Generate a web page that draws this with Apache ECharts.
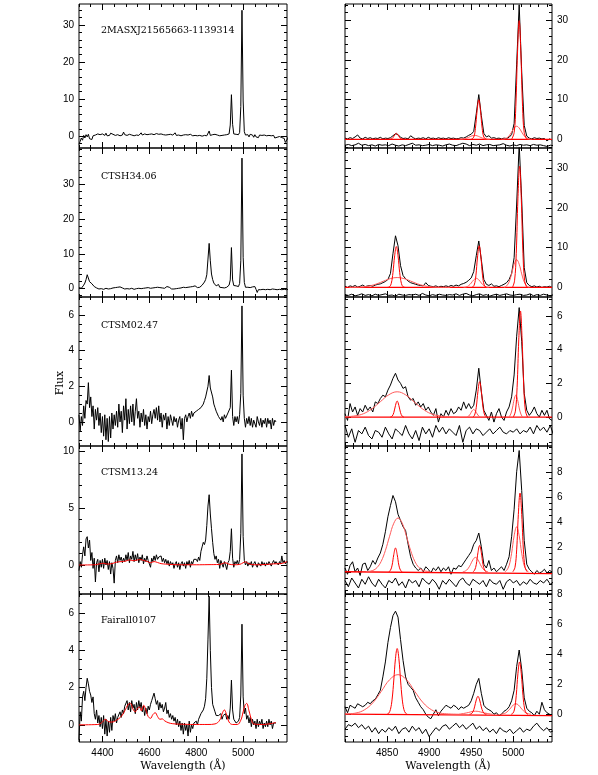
<!DOCTYPE html>
<html>
<head>
<meta charset="utf-8">
<script src="https://cdn.jsdelivr.net/npm/echarts@6/dist/echarts.min.js"></script>
<style>
    html, body { margin: 0; padding: 0; background: #fff; }
    #chart { width: 598px; height: 775px; }
</style>
</head>
<body>
<div id="chart"></div>
<script>
// ---- sample names ----
const names = ['2MASXJ21565663-1139314', 'CTSH34.06', 'CTSM02.47', 'CTSM13.24', 'Fairall0107'];

// ---- tick labels ----
const leftXTicks = [4400, 4600, 4800, 5000];
const rightXTicks = [4850, 4900, 4950, 5000];
const leftYTicks = [[0, 10, 20, 30], [0, 10, 20, 30], [0, 2, 4, 6], [0, 5, 10], [0, 2, 4, 6]];
const rightYTicks = [[0, 10, 20, 30], [0, 10, 20, 30], [0, 2, 4, 6], [0, 2, 4, 6, 8], [0, 2, 4, 6, 8]];

// ---- left column spectra: flux every 5 A from 4300 A (10 values per row = 50 A) ----
const specLeft1 = [
    -2.2, -1.4, -0.5, -1.1, 0.2, -0.5, 0.4, -0.2, 0.5, -0.7,
    -0.2, -0.9, 0.1, -0.4, 0.3, 0.0, 0.6, 0.2, 0.4, -0.1,
    0.6, 0.3, 0.2, 0.8, 0.1, 0.5, 0.2, 0.8, 0.3, 0.5,
    1.0, 0.2, 0.7, 0.4, 0.9, 0.1, 0.6, 0.3, 1.1, 0.4,
    0.8, 0.2, 0.7, 0.5, 0.9, 0.3, 0.6, 0.1, 0.5, 0.3,
    0.7, 0.2, 0.5, 0.9, 0.3, 0.2, 0.6, 0.1, 0.4, 0.0,
    0.5, 0.2, 0.6, 0.1, 0.4, 0.3, 0.7, 0.2, 0.5, 0.3,
    0.6, 0.2, 0.4, 0.8, 0.3, 0.6, 0.4, 0.7, 0.5, 0.4,
    0.3, 0.5, 0.9, 0.2, 0.6, 0.3, 0.5, 0.1, 0.4, 0.3,
    0.0, 0.4, 0.2, 0.3, 0.2, 0.5, 0.3, 0.1, 0.4, 0.2,
    0.5, 0.1, 0.3, 0.2, 0.4, 0.0, 0.3, 0.2, 0.4, 0.1,
    0.3, 1.4, 0.2, -0.1, 0.4, 0.2, 0.5, 0.1, 0.3, 0.4,
    0.1, 0.3, 0.2, 0.5, 0.3, 0.1, 0.4, 0.2, 0.6, 3.0,
    11.2, 3.2, 0.6, 0.2, 0.5, 0.1, 0.4, 1.0, 8.0, 34.0,
    9.5, 1.2, 0.3, -0.1, 0.4, -0.2, 0.5, 0.0, 0.3, -0.3,
    0.4, -0.2, 0.2, -0.4, 0.3, -0.1, 0.2, -0.3, 0.3, -0.2,
    0.1, -0.4, 0.2, -0.3, 0.1, -0.2, 0.2, -0.5, 0.0, -0.3,
    0.2, -0.1, 0.1, -0.4, 0.0, -0.6, -1.7, -1.2, -0.6, 0.2,
];
const specLeft2 = [
    0.3, 0.8, 0.1, 0.6, 1.0, 1.6, 2.6, 4.0, 3.6, 2.0,
    1.6, 1.4, 1.1, 0.6, 0.9, 0.2, 0.4, -0.1, 0.3, 0.0,
    0.4, -0.2, 0.3, 0.1, 0.5, -0.1, 0.3, 0.0, 0.4, 0.2,
    0.6, 0.3, 0.7, 0.4, 0.9, 0.5, 0.8, 0.2, 0.4, -0.1,
    0.2, 0.0, 0.3, -0.1, 0.2, 0.1, 0.3, -0.2, 0.2, 0.0,
    0.3, 0.1, 0.2, 0.0, 0.3, 0.1, 0.4, 0.2, 0.5, 0.3,
    0.3, 0.1, 0.4, 0.2, 0.5, 0.3, 0.6, 0.4, 0.7, 0.3,
    0.5, 0.2, 0.4, 0.1, 0.3, 0.6, 1.1, 0.4, 0.2, -0.1,
    0.1, -0.1, 0.2, 0.0, 0.3, 0.1, 0.5, 0.2, 0.7, 0.4,
    0.6, 0.3, 0.1, 0.4, 0.2, 0.5, 0.3, 0.6, 0.4, 0.8,
    0.6, 0.3, 0.5, 0.4, 0.8, 1.0, 1.3, 1.9, 2.6, 4.0,
    8.5, 13.0, 8.0, 4.2, 2.6, 1.6, 1.1, 0.8, 0.6, 1.2,
    0.4, 0.8, 0.3, 0.5, 0.2, 0.6, 0.4, 0.9, 1.0, 2.5,
    11.8, 2.5, 0.9, 0.5, 0.8, 0.3, 0.6, 1.5, 8.0, 37.5,
    9.0, 1.8, 0.4, 0.1, 0.4, 0.0, 0.3, 0.1, 0.5, 0.9,
    0.6, -0.2, -1.1, -0.3, 0.0, -0.3, 0.1, -0.2, 0.0, -0.3,
    0.1, -0.2, 0.0, -0.3, 0.1, -0.1, 0.2, -0.2, 0.0, -0.3,
    0.1, -0.2, 0.0, -0.3, 0.1, -0.2, 0.0, -0.3, 0.1, -0.2,
];
const specLeft3 = [
    0.4, -0.5, 0.3, -0.2, 0.9, 0.2, 1.2, 1.0, 2.2, 0.8,
    1.4, 0.3, 0.9, -0.4, 0.7, 0.1, 0.8, -0.2, 0.5, -0.6,
    0.3, -0.8, 0.4, -1.0, 0.2, -1.1, 0.3, -0.9, 0.5, -0.4,
    0.4, -0.2, 0.6, -0.3, 1.0, 0.0, 0.6, -0.6, 0.9, 0.1,
    1.3, -0.4, 0.7, -0.1, 0.9, 0.0, 1.0, -0.2, 0.6, 1.3,
    0.2, 0.6, -0.3, 0.5, 0.0, 0.7, -0.2, 0.4, -0.4, 0.3,
    0.0, 0.6, -0.1, 0.4, 0.7, 0.2, 0.8, 0.1, 0.9, 0.0,
    0.5, -0.3, 0.4, 0.1, 0.5, -0.4, 0.3, -0.2, 0.4, 0.1,
    -0.2, 0.3, 0.0, 0.2, -0.3, 0.1, 0.3, -0.4, 0.2, -1.0,
    0.2, 0.4, 0.0, 0.3, 0.5, 0.2, 0.6, 0.3, 0.5, 0.4,
    0.6, 0.5, 0.7, 0.6, 0.8, 0.7, 1.0, 1.2, 1.4, 1.5,
    2.0, 2.6, 1.9, 1.8, 1.4, 1.0, 0.8, 0.6, 0.5, 0.3,
    0.4, 0.1, 0.3, 0.0, 0.4, 0.2, 0.3, 0.5, 0.4, 0.8,
    2.9, 0.3, -0.2, 0.3, 0.0, 0.3, -0.1, 0.4, 1.6, 6.5,
    1.5, 0.2, -0.3, 0.2, -0.1, 0.3, -0.2, 0.2, -0.3, 0.1,
    0.2, -0.3, 0.3, 0.0, -0.2, 0.2, -0.3, 0.1, -0.1, 0.2,
    -0.3, 0.2, -0.1, 0.1, -0.4, 0.2, -0.2, 0.1, 0.0,
];
const specLeft4 = [
    -0.5, 0.3, -0.2, 0.9, 1.6, 0.8, 2.3, 2.5, 1.5, 2.2,
    0.4, 1.1, -0.3, 0.6, -1.5, 0.2, 0.5, -0.6, 0.4, -0.2,
    0.5, -0.3, 0.6, 0.0, 0.4, -0.4, 0.3, -0.8, 0.2, -0.3,
    -1.6, 0.4, 0.8, 0.2, 0.9, 0.4, 0.7, 0.2, 0.6, 0.3,
    0.9, 0.4, 1.1, 0.2, 0.8, 0.5, 1.2, 0.3, 0.9, 0.4,
    1.0, 0.2, 0.7, 0.4, 0.9, 0.1, 0.6, 0.3, 0.8, 0.4,
    0.5, -0.2, 0.6, 0.3, 0.8, 0.4, 0.9, 0.5, 0.7, 0.6,
    0.8, 0.3, 0.6, 0.2, 0.5, 0.1, 0.4, -0.1, 0.3, 0.0,
    0.2, -0.3, 0.1, 0.3, -0.2, 0.2, -0.4, 0.1, 0.3, -0.1,
    0.2, -0.3, 0.3, 0.0, 0.4, -0.2, 0.3, 0.1, 0.5, 0.4,
    0.5, 0.3, 0.7, 0.4, 1.2, 1.6, 2.0, 1.8, 2.2, 3.5,
    5.2, 6.2, 4.5, 3.2, 2.0, 1.0, 0.5, 0.8, 0.2, 0.5,
    -0.3, 0.4, 0.1, -0.2, 0.3, 0.0, -0.4, 0.2, 0.4, 1.2,
    3.2, 0.6, -0.2, 0.3, 0.1, 0.4, 0.0, 0.5, 2.8, 9.8,
    2.5, 0.4, 0.0, 0.3, -0.1, 0.2, 0.0, 0.3, -0.2, 0.1,
    0.3, 0.0, -0.2, 0.2, 0.1, -0.1, 0.3, 0.0, 0.2, -0.1,
    0.2, 0.0, 0.3, 0.1, -0.1, 0.2, 0.4, 0.1, 0.3, 0.2,
    0.0, 0.3, 0.1, 0.8, 0.2, 0.4, 0.1, 0.3, 0.4, 0.2,
];
const specLeft5 = [
    -0.8, 0.7, 0.2, 1.5, 1.8, 1.3, 2.0, 2.5, 2.2, 1.8,
    1.6, 1.2, 1.5, 0.6, 0.3, 0.8, 0.1, 0.5, -0.1, 0.4,
    -0.2, 0.5, -0.5, 0.3, -0.6, 0.2, -0.4, 0.4, -0.3, 0.5,
    0.2, 0.6, 0.1, 0.4, 0.3, 0.7, 0.4, 0.8, 0.6, 1.0,
    0.9, 1.3, 0.8, 1.2, 0.7, 1.3, 0.9, 1.1, 0.6, 1.2,
    0.8, 1.3, 0.9, 1.2, 0.7, 1.0, 0.5, 0.9, 0.6, 1.0,
    0.8, 1.1, 1.3, 1.2, 1.7, 1.4, 1.1, 1.3, 0.8, 1.2,
    0.9, 1.1, 0.7, 0.9, 1.2, 0.6, 0.8, 0.4, 0.6, 0.3,
    0.5, 0.2, 0.4, 0.0, 0.3, -0.1, 0.2, -0.3, 0.1, -0.5,
    0.1, -0.3, 0.0, -0.6, 0.2, -0.4, 0.0, -0.2, 0.1, 0.0,
    0.2, 0.0, 0.3, 0.4, 0.6, 0.5, 0.8, 1.0, 1.4, 2.5,
    4.6, 6.9, 4.0, 2.0, 1.1, 0.9, 0.7, 0.5, 0.6, 0.5,
    0.4, 0.6, 0.3, 0.5, 0.4, 0.6, 0.3, 0.5, 0.3, 0.9,
    2.4, 0.8, 0.3, 0.2, 0.1, 0.0, 0.2, 0.4, 1.6, 5.4,
    1.5, 0.6, 0.9, 0.3, 0.5, 0.1, 0.4, -0.1, 0.3, 0.0,
    0.2, -0.2, 0.3, -0.1, 0.2, 0.0, 0.3, -0.2, 0.1, -0.1,
    0.2, -0.1, 0.3, 0.0, 0.2, -0.2, 0.1, 0.2, 0.1,
];
// Fe II template fits [wavelength, flux]
const feLeft4 = [
    [4300, 0], [4370, 0.02], [4390, 0.12], [4405, 0.15], [4420, 0.08], [4440, 0.12], [4460, 0.25],
    [4480, 0.3], [4500, 0.35], [4515, 0.45], [4530, 0.38], [4545, 0.42], [4560, 0.48], [4575, 0.4],
    [4590, 0.32], [4605, 0.2], [4620, 0.3], [4635, 0.22], [4650, 0.12], [4670, 0.08], [4700, 0.04],
    [4750, 0.02], [4800, 0.02], [4850, 0.03], [4900, 0.05], [4915, 0.15], [4925, 0.2], [4938, 0.08],
    [4960, 0.02], [4985, 0.05], [5000, 0.2], [5010, 0.28], [5020, 0.15], [5035, 0.05], [5060, 0.02],
    [5100, 0.05], [5130, 0.1], [5160, 0.12], [5175, 0.2], [5187, 0.3],
];
const feLeft5 = [
    [4300, 0], [4380, 0.02], [4400, 0.15], [4412, 0.3], [4425, 0.18], [4440, 0.15], [4460, 0.25],
    [4480, 0.45], [4495, 0.75], [4510, 1.1], [4520, 1.15], [4530, 0.85], [4540, 0.7], [4550, 0.9],
    [4558, 0.95], [4566, 0.75], [4576, 1.05], [4585, 0.8], [4595, 0.45], [4605, 0.35], [4615, 0.55],
    [4625, 0.65], [4635, 0.45], [4645, 0.3], [4655, 0.32], [4665, 0.22], [4680, 0.12], [4700, 0.06],
    [4750, 0.03], [4800, 0.02], [4850, 0.02], [4880, 0.05], [4900, 0.25], [4912, 0.65], [4920, 0.8],
    [4928, 0.6], [4940, 0.15], [4955, 0.02], [4975, 0.02], [4990, 0.25], [5000, 0.7], [5008, 1.05],
    [5015, 1.15], [5025, 0.75], [5035, 0.3], [5045, 0.05], [5080, 0.02], [5110, 0.05], [5130, 0.1], [5140, 0.12],
];

// ---- right column: observed flux every 3 A from 4800 A (10 per row = 30 A) ----
const obsRight1 = [
    0.3, 0.1, 0.4, 0.2, 0.6, 1.1, 0.3, 0.1, 0.5, 0.2,
    0.4, 0.1, 0.3, 0.2, 0.5, 0.1, 0.3, 0.2, 0.4, 0.9,
    1.4, 1.2, 0.5, 0.2, 0.3, 0.1, 0.9, 0.4, 0.1, 0.3,
    0.2, 0.4, 0.1, 0.5, 0.2, 0.3, 0.1, 0.4, 0.2, 0.3,
    0.1, 0.4, 0.2, 0.3, 0.1, 0.2, 0.4, 0.3, 0.6, 1.0,
    1.3, 2.0, 6.5, 11.3, 6.0, 1.5, 0.6, 0.9, 0.3, 0.4,
    0.2, 0.3, 0.1, 0.3, 0.2, 0.5, 1.2, 4.0, 19.0, 34.0,
    17.0, 3.5, 0.8, 0.3, 0.1, 0.4, 0.2, 0.3, 0.1, 0.2,
    -0.4, 0.1, -0.2,
];
const obsRight2 = [
    0.3, 0.0, 0.4, 0.2, 0.5, 0.1, 0.3, 0.6, 0.2, 0.4,
    0.5, 0.3, 0.6, 0.8, 0.9, 1.2, 1.5, 2.0, 3.5, 8.5,
    13.0, 10.5, 5.5, 3.0, 2.2, 1.6, 1.2, 1.0, 0.8, 0.6,
    0.5, 0.4, 1.2, 0.5, 0.3, 0.2, 0.4, 0.1, 0.3, 0.2,
    0.4, 0.2, 0.5, 0.3, 0.6, 0.4, 0.8, 1.0, 1.3, 1.8,
    2.4, 4.0, 8.0, 11.7, 7.0, 2.0, 0.8, 0.5, 0.9, 0.3,
    0.4, 0.2, 0.5, 0.8, 1.2, 2.0, 3.5, 7.5, 21.0, 36.0,
    22.0, 5.0, 1.2, 0.5, 0.2, 0.4, 0.1, 0.3, 0.0, 0.2,
    0.1, 0.3, 0.0,
];
const obsRight3 = [
    0.2, -0.2, 0.8, 0.3, 0.6, 0.1, 0.5, 0.3, 0.7, 0.4,
    0.6, 0.3, 0.9, 0.8, 1.1, 1.3, 1.2, 1.6, 1.9, 2.3,
    2.6, 2.2, 2.0, 1.7, 1.8, 1.2, 1.0, 1.1, 0.7, 0.9,
    0.6, 0.8, 0.4, 0.6, 0.3, 0.1, 0.5, -0.3, 0.2, 0.0,
    0.4, 0.1, 0.5, 0.2, 0.3, 0.6, 0.4, 0.9, 0.5, 0.8,
    0.5, 0.7, 1.6, 2.9, 1.5, 0.4, 0.1, -0.2, 0.3, -0.3,
    0.2, 0.5, 0.0, -0.2, 0.3, 0.6, 1.2, 2.5, 4.8, 6.5,
    4.5, 1.4, 0.4, 0.1, 0.3, 0.6, 0.2, 0.0, 0.4, 0.1,
    0.4, -0.1, -0.2,
];
const obsRight4 = [
    0.3, -0.2, 0.5, 0.8, 0.0, 0.3, -0.3, 0.6, 0.7, 0.1,
    0.4, 0.9, 0.6, 1.1, 1.5, 2.2, 3.2, 4.4, 5.3, 6.1,
    5.6, 4.6, 4.1, 3.6, 3.3, 2.2, 1.2, 0.6, 0.3, 0.1,
    0.3, 0.0, 0.4, 0.2, -0.1, 0.3, 0.1, 0.4, 0.0, 0.3,
    0.1, 0.4, -0.2, 0.3, 0.2, 0.5, 0.4, 0.7, 1.0, 1.3,
    1.6, 2.2, 2.5, 3.1, 2.0, 0.6, 0.3, 0.9, 0.1, 0.3,
    0.0, 0.2, 0.4, 0.1, 0.6, 1.2, 2.8, 5.0, 8.0, 9.7,
    6.5, 2.5, 0.6, 0.2, 0.0, -0.2, 0.1, -0.1, 0.0, 0.2,
    -0.1, 0.1, 0.0,
];
const obsRight5 = [
    0.5, 0.1, 0.6, 0.5, 0.4, 0.7, 0.6, 0.5, 0.6, 0.8,
    0.7, 0.9, 1.0, 1.3, 1.6, 2.5, 3.5, 4.8, 5.8, 6.6,
    6.9, 6.5, 5.0, 3.6, 2.5, 2.0, 1.8, 1.6, 1.1, 0.8,
    0.5, 0.3, 0.0, -0.2, -0.3, 0.0, 0.3, -0.1, 0.2, 0.4,
    0.6, 0.5, 0.4, 0.6, 0.5, 0.3, 0.5, 0.4, 0.5, 0.6,
    0.9, 1.4, 2.0, 2.4, 1.4, 0.6, 0.4, 0.3, 0.2, 0.0,
    0.1, -0.1, 0.0, 0.2, 0.3, 0.5, 0.9, 1.6, 3.2, 4.3,
    3.0, 1.1, 0.4, 0.2, 0.1, -0.1, 0.2, 0.0, 0.8, 0.3,
    0.1, 0.0, -0.1,
];

// ---- right column: residuals every 4 A from 4800 A (10 per row = 40 A) ----
const resRight1 = [
    -1.5, -1.3, -1.6, -1.4, -1.0, -1.5, -1.3, -1.6, -1.4, -1.7,
    -1.3, -1.5, -1.4, -1.6, -1.2, -1.5, -1.7, -1.4, -1.6, -1.3,
    -1.0, -1.5, -1.4, -1.6, -1.5, -1.3, -1.6, -1.4, -1.5, -1.7,
    -1.4, -1.2, -1.5, -1.6, -1.3, -1.0, -1.2, -1.6, -1.3, -1.5,
    -1.2, -1.6, -1.4, -1.3, -1.6, -1.5, -1.4, -1.1, -1.5, -1.7,
    -1.4, -1.6, -1.3, -1.5, -1.4, -1.6, -1.3, -1.5, -1.4, -1.6,
    -1.8, -1.5, -1.6,
];
const resRight2 = [
    -1.8, -2.0, -1.7, -2.1, -1.9, -1.6, -2.0, -1.8, -2.1, -1.7,
    -2.0, -1.8, -1.6, -2.0, -1.9, -2.2, -1.7, -1.9, -2.0, -1.8,
    -1.9, -1.7, -2.0, -1.5, -1.9, -2.1, -1.8, -2.0, -1.7, -1.9,
    -2.0, -1.8, -1.9, -1.6, -2.0, -1.7, -1.5, -1.9, -2.1, -1.8,
    -1.6, -2.0, -1.8, -2.2, -1.9, -1.7, -2.0, -1.8, -1.6, -1.9,
    -2.0, -1.8, -1.7, -2.0, -1.9, -1.6, -2.1, -1.8, -2.0, -1.7,
    -1.9, -2.1, -1.8,
];
const resRight3 = [
    -0.5, -1.2, -0.7, -1.5, -0.8, -1.0, -0.6, -1.1, -1.3, -0.8,
    -0.9, -1.2, -0.6, -1.0, -1.3, -0.7, -0.9, -1.1, -0.5, -1.0,
    -1.3, -0.8, -1.4, -0.6, -1.0, -0.7, -1.2, -0.5, -0.9, -0.6,
    -1.0, -0.7, -0.9, -1.1, -0.5, -1.5, -0.8, -0.6, -1.0, -0.7,
    -0.8, -1.1, -0.9, -0.7, -1.0, -0.8, -0.6, -0.9, -1.0, -0.8,
    -0.9, -0.7, -1.0, -0.8, -0.9, -0.6, -1.0, -0.5, -0.8, -0.6,
    -0.9, -0.5, -1.1,
];
const resRight4 = [
    -0.7, -1.2, -0.5, -0.9, -1.3, -0.6, -1.0, -0.4, -0.9, -1.2,
    -0.6, -1.0, -1.3, -0.7, -0.9, -0.5, -1.1, -0.8, -1.3, -0.6,
    -0.9, -0.7, -1.2, -0.5, -0.8, -1.0, -0.6, -0.9, -1.4, -0.7,
    -1.0, -0.6, -0.9, -1.2, -0.7, -0.5, -0.9, -1.1, -0.6, -0.8,
    -1.0, -0.7, -1.2, -0.6, -0.9, -1.0, -0.7, -1.4, -0.8, -0.6,
    -0.9, -0.7, -1.1, -0.8, -1.0, -0.6, -0.9, -1.0, -0.7, -0.9,
    -0.6, -1.0, -0.8,
];
const resRight5 = [
    -1.0, -0.7, -0.8, -0.6, -0.9, -0.7, -1.0, -0.8, -1.2, -0.9,
    -1.3, -1.0, -1.2, -0.9, -1.1, -0.8, -1.3, -1.0, -0.9, -1.2,
    -0.8, -1.1, -0.9, -1.3, -1.0, -1.5, -1.2, -0.9, -1.1, -0.8,
    -0.7, -1.0, -0.8, -0.6, -0.9, -0.7, -1.0, -0.8, -0.6, -1.0,
    -0.8, -1.1, -0.9, -1.2, -1.0, -1.3, -0.9, -1.1, -1.2, -1.0,
    -1.3, -1.1, -0.9, -1.2, -1.0, -1.1, -0.8, -0.6, -0.9, -1.1,
    -0.9, -1.2, -1.1,
];

// ---- right column: fitted line components [wavelength, flux] ----
const narrowRight1 = [
    [[4852, 0], [4855, 0.09], [4857, 0.41], [4859, 1.09], [4861, 1.5], [4863, 1.09], [4865, 0.41], [4867, 0.09], [4870, 0]],
    [[4950, 0], [4953, 0.56], [4955, 2.78], [4957, 7.26], [4959, 10], [4961, 7.26], [4963, 2.78], [4965, 0.56], [4968, 0]],
    [[4998, 0], [5001, 1.68], [5003, 8.3], [5005, 21.8], [5007, 30], [5009, 21.8], [5011, 8.3], [5013, 1.68], [5016, 0]],
];
const broadRight1 = [
    [[4936, 0], [4939, 0.04], [4942, 0.14], [4945, 0.32], [4948, 0.61], [4951, 0.88], [4954, 1.0], [4957, 0.88], [4960, 0.61], [4963, 0.32], [4966, 0.14], [4969, 0.04], [4972, 0]],
    [[4986, 0], [4989, 0.08], [4992, 0.31], [4995, 0.86], [4998, 1.82], [5001, 2.84], [5004, 3.3], [5007, 2.84], [5010, 1.82], [5013, 0.86], [5016, 0.31], [5019, 0.08], [5022, 0]],
];
const narrowRight2 = [
    [[4850, 0], [4853, 0.18], [4855, 1.04], [4857, 3.72], [4859, 7.98], [4861, 10.3], [4863, 7.98], [4865, 3.72], [4867, 1.04], [4869, 0.18], [4872, 0]],
    [[4951, 0], [4953.5, 0.59], [4955.5, 2.92], [4957.5, 7.66], [4959.5, 10.5], [4961.5, 7.66], [4963.5, 2.92], [4965.5, 0.59], [4968, 0]],
    [[4999, 0], [5001.5, 1.7], [5003.5, 8.5], [5005.5, 22.3], [5007.5, 30.5], [5009.5, 22.3], [5011.5, 8.5], [5013.5, 1.7], [5016, 0]],
];
const broadRight2 = [
    [[4805, 0.01], [4812, 0.03], [4822, 0.16], [4830, 0.43], [4838, 0.92], [4846, 1.61], [4854, 2.24], [4862, 2.5], [4870, 2.24], [4878, 1.61], [4886, 0.92], [4894, 0.43], [4902, 0.16], [4912, 0.03], [4925, 0]],
    [[4941, 0], [4944, 0.13], [4947, 0.46], [4950, 1.12], [4953, 1.92], [4956, 2.3], [4959, 1.92], [4962, 1.12], [4965, 0.46], [4968, 0.13], [4971, 0]],
    [[4989, 0], [4992, 0.39], [4995, 1.39], [4998, 3.41], [5001, 5.85], [5004, 7], [5007, 5.85], [5010, 3.41], [5013, 1.39], [5016, 0.39], [5019, 0]],
];
const narrowRight3 = [
    [[4854, 0], [4856, 0.05], [4858, 0.26], [4860, 0.69], [4862, 0.95], [4864, 0.69], [4866, 0.26], [4868, 0.05], [4870, 0]],
    [[4952, 0], [4954, 0.12], [4956, 0.58], [4958, 1.53], [4960, 2.1], [4962, 1.53], [4964, 0.58], [4966, 0.12], [4968, 0]],
    [[5000, 0], [5002.5, 0.35], [5004.5, 1.75], [5006.5, 4.58], [5008.5, 6.3], [5010.5, 4.58], [5012.5, 1.75], [5014.5, 0.35], [5017, 0]],
];
const broadRight3 = [
    [[4800, 0.01], [4812, 0.07], [4822, 0.2], [4832, 0.49], [4842, 0.91], [4852, 1.32], [4862, 1.5], [4872, 1.32], [4882, 0.91], [4892, 0.49], [4902, 0.2], [4912, 0.07], [4922, 0.02], [4935, 0]],
    [[4945, 0], [4947, 0.06], [4949, 0.19], [4951, 0.36], [4953, 0.45], [4955, 0.36], [4957, 0.19], [4959, 0.06], [4961, 0]],
    [[4995, 0], [4997, 0.18], [4999, 0.54], [5001, 1.04], [5003, 1.3], [5005, 1.04], [5007, 0.54], [5009, 0.18], [5011, 0]],
];
const narrowRight4 = [
    [[4852, 0], [4854, 0.11], [4856, 0.53], [4858, 1.38], [4860, 1.9], [4862, 1.38], [4864, 0.53], [4866, 0.11], [4868, 0]],
    [[4952, 0], [4954, 0.12], [4956, 0.58], [4958, 1.53], [4960, 2.1], [4962, 1.53], [4964, 0.58], [4966, 0.12], [4968, 0]],
    [[4999.5, 0], [5002, 0.35], [5004, 1.75], [5006, 4.58], [5008, 6.3], [5010, 4.58], [5012, 1.75], [5014, 0.35], [5016.5, 0]],
];
const broadRight4 = [
    [[4825, 0], [4828, 0.03], [4833, 0.1], [4838, 0.33], [4843, 0.83], [4848, 1.7], [4853, 2.84], [4858, 3.88], [4863, 4.3], [4868, 3.88], [4873, 2.84], [4878, 1.7], [4883, 0.83], [4888, 0.33], [4893, 0.1], [4898, 0.03], [4901, 0]],
    [[4940, 0], [4943, 0.06], [4946, 0.23], [4949, 0.56], [4952, 0.96], [4955, 1.15], [4958, 0.96], [4961, 0.56], [4964, 0.23], [4967, 0.06], [4970, 0]],
    [[4990, 0], [4992, 0.1], [4995, 0.49], [4998, 1.48], [5001, 2.88], [5004, 3.6], [5007, 2.88], [5010, 1.48], [5013, 0.49], [5016, 0.1], [5018, 0]],
];
const narrowRight5 = [
    [[4850, 0], [4852, 0.07], [4854, 0.32], [4856, 1.01], [4858, 2.29], [4860, 3.74], [4862, 4.4], [4864, 3.74], [4866, 2.29], [4868, 1.01], [4870, 0.32], [4872, 0.07], [4874, 0]],
    [[4948, 0], [4950, 0.03], [4952, 0.16], [4954, 0.49], [4956, 0.96], [4958, 1.2], [4960, 0.96], [4962, 0.49], [4964, 0.16], [4966, 0.03], [4968, 0]],
    [[4997.5, 0], [4999.5, 0.06], [5001.5, 0.35], [5003.5, 1.26], [5005.5, 2.71], [5007.5, 3.5], [5009.5, 2.71], [5011.5, 1.26], [5013.5, 0.35], [5015.5, 0.06], [5017.5, 0]],
];
const broadRight5 = [
    [[4800, 0.01], [4813, 0.08], [4823, 0.29], [4833, 0.76], [4843, 1.52], [4853, 2.31], [4863, 2.65], [4873, 2.31], [4883, 1.52], [4893, 0.76], [4903, 0.29], [4913, 0.08], [4923, 0.02], [4935, 0]],
    [[4935, 0], [4941, 0.05], [4947, 0.12], [4951, 0.18], [4955, 0.2], [4959, 0.18], [4963, 0.12], [4969, 0.05], [4975, 0]],
    [[4985, 0], [4988, 0.03], [4991, 0.09], [4994, 0.23], [4997, 0.42], [5000, 0.62], [5003, 0.7], [5006, 0.62], [5009, 0.42], [5012, 0.23], [5015, 0.09], [5018, 0.03], [5021, 0]],
];
// continuum level under the lines
const baseRight = [
    [[4800, 0], [5046, 0]],
    [[4800, 0], [5046, 0]],
    [[4800, 0], [5046, 0]],
    [[4800, 0], [5046, -0.15]],
    [[4800, 0], [5046, -0.1]],
];

// ---- layout ----
const rowTop = [4, 148, 297, 446, 594];
const rowHeight = [144, 149, 149, 148, 148];
const leftYRange = [[-3.2, 35.7], [-2.4, 40.4], [-1.35, 7.0], [-2.56, 10.5], [-0.92, 7.02]];
const rightYRange = [[-2.2, 34.2], [-2.4, 35.1], [-1.72, 7.13], [-1.78, 10.06], [-1.86, 8.05]];
const leftYMinor = [2, 2, 0.5, 1, 0.5];
const rightYMinor = [2, 2, 0.5, 0.5, 0.5];

function stepped(start, step, ys) {
    return ys.map((y, i) => [start + i * step, y]);
}
function ticksBetween(min, max, step) {
    const out = [];
    for (let v = Math.ceil(min / step) * step; v <= max + 1e-9; v += step) {
        out.push(Math.round(v * 100) / 100);
    }
    return out;
}

const tickFont = { color: '#000', fontSize: 10, fontFamily: 'Liberation Sans' };
const grids = [];
const xAxes = [];
const yAxes = [];
const series = [];

function tick(values, len) {
    return { show: true, inside: true, length: len, customValues: values, lineStyle: { color: '#000', width: 1 } };
}

function addPanel(p) {
    const g = grids.length;
    grids.push({
        left: p.left, top: p.top, width: p.width, height: p.height,
        show: true, borderColor: '#000', borderWidth: 1, backgroundColor: 'transparent',
    });
    // onZero off, otherwise the ticks follow the zero line
    const noLine = { show: false, onZero: false };
    const xBase = { gridIndex: g, type: 'value', min: p.xMin, max: p.xMax, splitLine: { show: false }, axisLine: noLine };
    const xMinor = ticksBetween(p.xMin, p.xMax, p.xMinorStep);
    xAxes.push(
        Object.assign({}, xBase, {
            position: 'bottom', axisTick: tick(p.xMajor, 6),
            axisLabel: p.xLabels
                ? Object.assign({ customValues: p.xMajor, margin: 6, formatter: v => String(v) }, tickFont)
                : { show: false },
        }),
        Object.assign({}, xBase, { position: 'bottom', axisTick: tick(xMinor, 3), axisLabel: { show: false } }),
        Object.assign({}, xBase, { position: 'top', axisTick: tick(p.xMajor, 6), axisLabel: { show: false } }),
        Object.assign({}, xBase, { position: 'top', axisTick: tick(xMinor, 3), axisLabel: { show: false } }),
    );
    const yBase = { gridIndex: g, type: 'value', min: p.yMin, max: p.yMax, splitLine: { show: false }, axisLine: noLine };
    const yMinor = ticksBetween(p.yMin, p.yMax, p.yMinorStep);
    const yLabel = Object.assign({ customValues: p.yMajor, margin: 5, formatter: v => String(v) }, tickFont);
    yAxes.push(
        Object.assign({}, yBase, { position: 'left', axisTick: tick(p.yMajor, 6), axisLabel: p.labelSide === 'left' ? yLabel : { show: false } }),
        Object.assign({}, yBase, { position: 'left', axisTick: tick(yMinor, 3), axisLabel: { show: false } }),
        Object.assign({}, yBase, { position: 'right', axisTick: tick(p.yMajor, 6), axisLabel: p.labelSide === 'right' ? yLabel : { show: false } }),
        Object.assign({}, yBase, { position: 'right', axisTick: tick(yMinor, 3), axisLabel: { show: false } }),
    );
    return g;
}

function addLine(g, data, color, width, smooth) {
    series.push({
        type: 'line',
        xAxisIndex: g * 4,
        yAxisIndex: g * 4,
        data: data,
        symbol: 'none',
        smooth: smooth || false,
        clip: true,
        silent: true,
        animation: false,
        lineStyle: { color: color, width: width },
    });
}

const specLeft = [specLeft1, specLeft2, specLeft3, specLeft4, specLeft5];
const feLeft = [null, null, null, feLeft4, feLeft5];
const obsRight = [obsRight1, obsRight2, obsRight3, obsRight4, obsRight5];
const resRight = [resRight1, resRight2, resRight3, resRight4, resRight5];
const narrowRight = [narrowRight1, narrowRight2, narrowRight3, narrowRight4, narrowRight5];
const broadRight = [broadRight1, broadRight2, broadRight3, broadRight4, broadRight5];

const RED = '#ff0000';
const LIGHT_RED = '#ff5a5a';

for (let r = 0; r < 5; r++) {
    // left column: full spectrum
    const gl = addPanel({
        left: 79, top: rowTop[r], width: 208, height: rowHeight[r],
        xMin: 4300, xMax: 5187, xMajor: leftXTicks, xMinorStep: 50, xLabels: r === 4,
        yMin: leftYRange[r][0], yMax: leftYRange[r][1], yMajor: leftYTicks[r], yMinorStep: leftYMinor[r],
        labelSide: 'left',
    });
    addLine(gl, stepped(4300, 5, specLeft[r]), '#000', 1);
    if (feLeft[r]) {
        addLine(gl, feLeft[r], RED, 1, 0.4);
    }

    // right column: zoom on H-beta / [OIII] with line fits and residuals
    const gr = addPanel({
        left: 345, top: rowTop[r], width: 207, height: rowHeight[r],
        xMin: 4800, xMax: 5046, xMajor: rightXTicks, xMinorStep: 10, xLabels: r === 4,
        yMin: rightYRange[r][0], yMax: rightYRange[r][1], yMajor: rightYTicks[r], yMinorStep: rightYMinor[r],
        labelSide: 'right',
    });
    addLine(gr, stepped(4800, 3, obsRight[r]), '#000', 1);
    addLine(gr, stepped(4800, 4, resRight[r]), '#000', 1);
    addLine(gr, baseRight[r], RED, 1.3);
    broadRight[r].forEach(c => addLine(gr, c, LIGHT_RED, 1, 0.4));
    narrowRight[r].forEach(c => addLine(gr, c, RED, 1, 0.4));
}

// panel names, axis titles
const nameY = [32, 178, 327, 474, 622];
const graphics = names.map((n, i) => ({
    type: 'text', left: 101, top: nameY[i] - 6,
    style: { text: n, font: '9.5px "DejaVu Serif"', fill: '#000' },
}));
graphics.push(
    {
        type: 'text', x: 60, y: 383, rotation: Math.PI / 2,
        style: { text: 'Flux', font: '11px "DejaVu Serif"', fill: '#000', align: 'center', verticalAlign: 'middle' },
    },
    {
        type: 'text', x: 183, y: 766,
        style: { text: 'Wavelength (Å)', font: '11px "DejaVu Serif"', fill: '#000', align: 'center', verticalAlign: 'middle' },
    },
    {
        type: 'text', x: 448, y: 766,
        style: { text: 'Wavelength (Å)', font: '11px "DejaVu Serif"', fill: '#000', align: 'center', verticalAlign: 'middle' },
    },
);

const myChart = echarts.init(document.getElementById('chart'), null, { renderer: 'canvas' });
myChart.setOption({
    backgroundColor: '#fff',
    animation: false,
    grid: grids,
    xAxis: xAxes,
    yAxis: yAxes,
    series: series,
    graphic: graphics,
});
</script>
</body>
</html>
